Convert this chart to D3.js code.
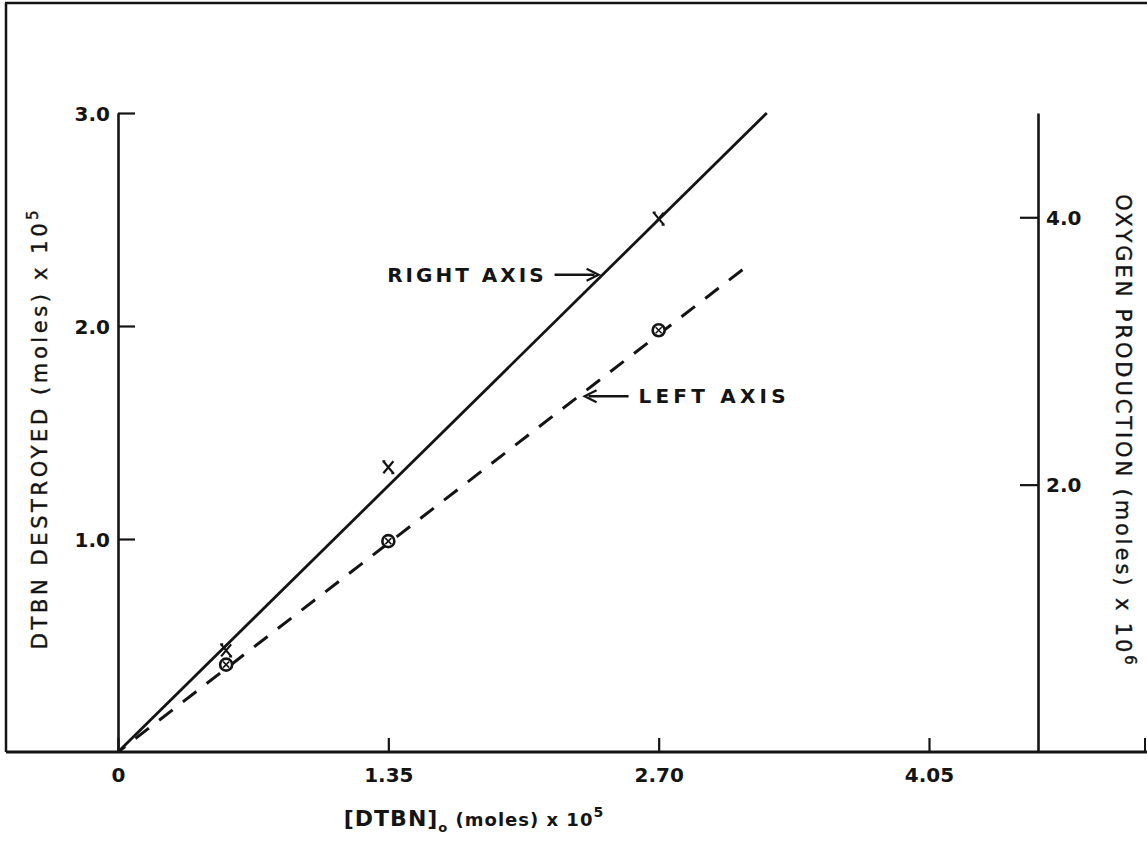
<!DOCTYPE html>
<html>
<head>
<meta charset="utf-8">
<script src="https://cdn.jsdelivr.net/npm/d3@7"></script>
<style>
  html, body { margin: 0; padding: 0; background: #fff; }
  svg { display: block; }
  text { font-family: 'DejaVu Sans', sans-serif; fill: #141414; }
</style>
</head>
<body>
<svg width="1147" height="849"></svg>
<script>
// tick values as lettered on the plot
const xTicks = [0, 1.35, 2.70, 4.05];
const leftTicks = [1.0, 2.0, 3.0];
const rightTicks = [2.0, 4.0];

// DTBN destroyed (left axis, moles x 1e5) vs [DTBN]o
const dtbnX = [0.54, 1.35, 2.70];
const dtbnDestroyed = [0.41, 0.99, 1.98];

// oxygen produced (right axis, moles x 1e6) vs [DTBN]o
const oxyX = [0.54, 1.35, 2.70];
const oxyProduced = [0.76, 2.13, 3.99];

// hand drawn fit lines, start and end points
const oxyFit = [[0, 0], [3.24, 4.78]];
const dtbnFit = [[0, 0], [3.14, 2.28]];

// arrow tips for the two notes
const rightNote = [2.40, 3.57];
const leftNote = [2.33, 1.67];

const ink = '#141414';
const svg = d3.select('svg');

const x = d3.scaleLinear().domain([0, 4.05]).range([118, 929]);
const yLeft = d3.scaleLinear().domain([0, 3.0]).range([752, 113]);
const yRight = d3.scaleLinear().domain([0, 4.78]).range([752, 113]);
const rightAxisX = 1038;

// outer frame of the sheet
const frame = svg.append('g').attr('stroke', ink).attr('fill', 'none');
frame.append('path').attr('d', 'M5,3 H1147').attr('stroke-width', 2.5);
frame.append('path').attr('d', 'M6,3 V752').attr('stroke-width', 2.5);
frame.append('path').attr('d', 'M6,752 H1147').attr('stroke-width', 2.8);
frame.append('path').attr('d', 'M1145,738 V752').attr('stroke-width', 2);

// left axis
const gLeft = svg.append('g')
  .attr('transform', `translate(${x(0)},0)`)
  .call(d3.axisLeft(yLeft)
    .tickValues(leftTicks)
    .tickSize(-17)
    .tickSizeOuter(0)
    .tickPadding(8)
    .tickFormat(d3.format('.1f')));

// right axis
const gRight = svg.append('g')
  .attr('transform', `translate(${rightAxisX},0)`)
  .call(d3.axisRight(yRight)
    .tickValues(rightTicks)
    .tickSize(-18)
    .tickSizeOuter(0)
    .tickPadding(8)
    .tickFormat(d3.format('.1f')));

// bottom axis, the line itself is part of the frame
const gBottom = svg.append('g')
  .attr('transform', `translate(0,${yLeft(0)})`)
  .call(d3.axisBottom(x)
    .tickValues(xTicks)
    .tickSize(-14)
    .tickSizeOuter(0)
    .tickPadding(16)
    .tickFormat(d => (d === 0 ? '0' : d3.format('.2f')(d))));
gBottom.select('.domain').remove();

[gLeft, gRight, gBottom].forEach((g) => {
  g.select('.domain').attr('stroke', ink).attr('stroke-width', 2.6);
  g.selectAll('.tick line').attr('stroke', ink).attr('stroke-width', 2.2);
  g.selectAll('.tick text')
    .attr('font-size', 20)
    .attr('font-weight', 'bold')
    .attr('font-family', "'DejaVu Sans', sans-serif")
    .attr('fill', ink);
});
gLeft.selectAll('.tick text').attr('dy', '0.36em');
gRight.selectAll('.tick text').attr('dy', '0.36em');

// fit lines
const lineRight = d3.line().x(d => x(d[0])).y(d => yRight(d[1]));
const lineLeft = d3.line().x(d => x(d[0])).y(d => yLeft(d[1]));

svg.append('path')
  .attr('d', lineRight(oxyFit))
  .attr('fill', 'none')
  .attr('stroke', ink)
  .attr('stroke-width', 2.8);

svg.append('path')
  .attr('d', lineLeft(dtbnFit))
  .attr('fill', 'none')
  .attr('stroke', ink)
  .attr('stroke-width', 3)
  .attr('stroke-dasharray', '17,13')
  .attr('stroke-dashoffset', -22);

// oxygen points, crosses
svg.append('g').selectAll('path')
  .data(oxyX.map((d, i) => [d, oxyProduced[i]]))
  .join('path')
  .attr('transform', d => `translate(${x(d[0])},${yRight(d[1])})`)
  .attr('d', 'M-5,-6 L5,6 M5,-6 L-5,6 M-6,-6 H-3 M3,6 H6')
  .attr('fill', 'none')
  .attr('stroke', ink)
  .attr('stroke-width', 2.2);

// DTBN points, crossed circles
const circ = svg.append('g').selectAll('g')
  .data(dtbnX.map((d, i) => [d, dtbnDestroyed[i]]))
  .join('g')
  .attr('transform', d => `translate(${x(d[0])},${yLeft(d[1])})`);
circ.append('circle')
  .attr('r', 6)
  .attr('fill', '#fff')
  .attr('stroke', ink)
  .attr('stroke-width', 2.6);
circ.append('path')
  .attr('d', 'M-3,-3 L3,3 M3,-3 L-3,3')
  .attr('stroke', ink)
  .attr('stroke-width', 1.6);

// notes with arrows
function arrow(tipX, tipY, dir) {
  const len = 44;
  const tail = tipX - dir * len;
  svg.append('path')
    .attr('d', `M${tail},${tipY} H${tipX - dir * 4}`)
    .attr('stroke', ink)
    .attr('stroke-width', 2.4)
    .attr('fill', 'none');
  svg.append('path')
    .attr('d', `M${tipX - dir * 12},${tipY - 6} L${tipX},${tipY} L${tipX - dir * 12},${tipY + 6}`)
    .attr('stroke', ink)
    .attr('stroke-width', 2.2)
    .attr('fill', 'none');
}

const rx = x(rightNote[0]);
const ry = yRight(rightNote[1]);
arrow(rx, ry, 1);
svg.append('text')
  .attr('x', rx - 52)
  .attr('y', ry)
  .attr('dy', '0.36em')
  .attr('text-anchor', 'end')
  .attr('font-size', 20)
  .attr('font-weight', 'bold')
  .attr('letter-spacing', 3)
  .text('RIGHT AXIS');

const lx = x(leftNote[0]);
const ly = yLeft(leftNote[1]);
arrow(lx, ly, -1);
svg.append('text')
  .attr('x', lx + 54)
  .attr('y', ly)
  .attr('dy', '0.36em')
  .attr('font-size', 20)
  .attr('font-weight', 'bold')
  .attr('letter-spacing', 4.2)
  .text('LEFT AXIS');

// axis titles
const leftTitle = svg.append('text')
  .attr('transform', 'translate(47,428) rotate(-90)')
  .attr('text-anchor', 'middle')
  .attr('font-size', 21)
  .attr('stroke', ink)
  .attr('stroke-width', 0.4)
  .attr('letter-spacing', 3.6);
leftTitle.append('tspan').text('DTBN DESTROYED (moles) x 10');
leftTitle.append('tspan').attr('dy', -9).attr('font-size', 15).text('5');

const rightTitle = svg.append('text')
  .attr('transform', 'translate(1116,431) rotate(90)')
  .attr('text-anchor', 'middle')
  .attr('font-size', 21)
  .attr('stroke', ink)
  .attr('stroke-width', 0.4)
  .attr('letter-spacing', 2.9);
rightTitle.append('tspan').text('OXYGEN PRODUCTION (moles) x 10');
rightTitle.append('tspan').attr('dy', -9).attr('font-size', 15).text('6');

const bottomTitle = svg.append('text')
  .attr('x', 474)
  .attr('y', 826)
  .attr('text-anchor', 'middle')
  .attr('font-size', 18)
  .attr('font-weight', 'bold')
  .attr('letter-spacing', 1);
bottomTitle.append('tspan').attr('font-size', 22).text('[DTBN]');
bottomTitle.append('tspan').attr('dy', 6).attr('font-size', 13).text('o');
bottomTitle.append('tspan').attr('dy', -6).text(' (moles) x 10');
bottomTitle.append('tspan').attr('dy', -9).attr('font-size', 14).text('5');
</script>
</body>
</html>
